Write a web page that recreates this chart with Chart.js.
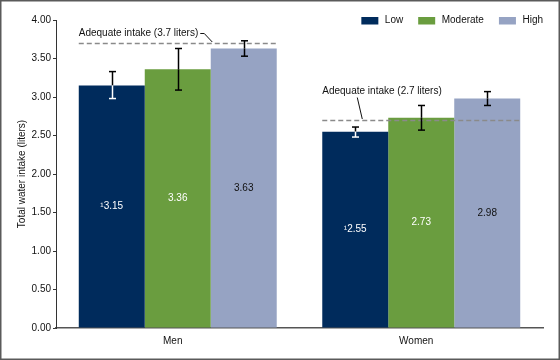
<!DOCTYPE html>
<html><head><meta charset="utf-8">
<script src="https://cdn.jsdelivr.net/npm/chart.js@4.4.1/dist/chart.umd.min.js"></script>
<style>html,body{margin:0;padding:0;background:#fff}#wrap{width:560px;height:360px;position:relative}</style>
</head><body><div id="wrap"><canvas id="c" width="560" height="360"></canvas></div>
<script>
// ---- data ----
const categories = ["Men", "Women"];
const seriesNames = ["Low", "Moderate", "High"];
const lowValues = [3.15, 2.55];
const moderateValues = [3.36, 2.73];
const highValues = [3.63, 2.98];
const lowCI = [[2.98, 3.33], [2.48, 2.61]];
const moderateCI = [[3.09, 3.63], [2.57, 2.89]];
const highCI = [[3.53, 3.73], [2.89, 3.07]];
const adequateIntake = [3.7, 2.7];
const adequateLabels = ["Adequate intake (3.7 liters)", "Adequate intake (2.7 liters)"];
const valueNotes = ["\u00b9", "", ""];
const yMin = 0, yMax = 4, yStep = 0.5;
const yTitle = "Total water intake (liters)";

// ---- styles ----
const FONT = '"Liberation Sans", Arial, Helvetica, sans-serif';
const FS = 10;
const colors = ["#002b5c", "#6a9d3f", "#96a3c3"];
const labelColors = ["#ffffff", "#ffffff", "#111111"];
const innerErrColors = ["#ffffff", "#000000", "#000000"];
const annotStyle = [
  { rise: 10, leader: "hook" },
  { rise: 29, leader: "down" }
];

const overlay = {
  id: "overlay",
  beforeDraw(chart) {
    const ctx = chart.ctx;
    ctx.save(); ctx.fillStyle = "#fff"; ctx.fillRect(0, 0, chart.width, chart.height); ctx.restore();
  },
  afterDatasetsDraw(chart) {
    const ctx = chart.ctx, ys = chart.scales.y;
    const metas = chart.data.datasets.map((d, i) => chart.getDatasetMeta(i));
    ctx.save();
    // reference lines
    categories.forEach((c, i) => {
      const f = metas[0].data[i], l = metas[metas.length - 1].data[i];
      const x0 = f.x - f.width / 2, x1 = l.x + l.width / 2;
      const yy = Math.round(ys.getPixelForValue(adequateIntake[i])) + 0.5;
      ctx.save();
      ctx.strokeStyle = "#8a8a8a"; ctx.lineWidth = 1.5; ctx.setLineDash([5, 3]);
      ctx.beginPath(); ctx.moveTo(x0, yy); ctx.lineTo(x1, yy); ctx.stroke();
      ctx.restore();
      // annotation text
      ctx.font = FS + "px " + FONT; ctx.fillStyle = "#111"; ctx.textBaseline = "middle"; ctx.textAlign = "left";
      const ty = yy - annotStyle[i].rise;
      ctx.fillText(adequateLabels[i], x0, ty);
      const tw = ctx.measureText(adequateLabels[i]).width;
      ctx.strokeStyle = "#111"; ctx.lineWidth = 1;
      ctx.beginPath();
      if (annotStyle[i].leader === "hook") {
        ctx.moveTo(x0 + tw + 2, ty); ctx.lineTo(x0 + tw + 6, ty); ctx.lineTo(x0 + tw + 14, yy - 1.5);
      } else {
        ctx.moveTo(x0 + 35, ty + 6); ctx.lineTo(x0 + 40, yy - 1.5);
      }
      ctx.stroke();
    });
    // error bars
    const cis = [lowCI, moderateCI, highCI];
    metas.forEach((m, di) => {
      m.data.forEach((bar, i) => {
        const [lo, hi] = cis[di][i];
        const yl = ys.getPixelForValue(lo), yh = ys.getPixelForValue(hi), yt = bar.y;
        const x = Math.round(bar.x) + 0.5;
        ctx.lineWidth = 1.5;
        const seg = (a, b, col) => { if (b <= a) return; ctx.strokeStyle = col; ctx.beginPath(); ctx.moveTo(x, a); ctx.lineTo(x, b); ctx.stroke(); };
        seg(yh, Math.min(yt, yl), "#000");
        seg(Math.max(yt, yh), yl, innerErrColors[di]);
        const cap = (yy, col) => { ctx.strokeStyle = col; ctx.beginPath(); ctx.moveTo(x - 3.5, yy); ctx.lineTo(x + 3.5, yy); ctx.stroke(); };
        cap(yh, yh < yt ? "#000" : innerErrColors[di]);
        cap(yl, yl < yt ? "#000" : innerErrColors[di]);
      });
    });
    // value labels
    ctx.font = FS + "px " + FONT; ctx.textAlign = "center"; ctx.textBaseline = "middle";
    metas.forEach((m, di) => {
      const vals = chart.data.datasets[di].data;
      m.data.forEach((bar, i) => {
        ctx.fillStyle = labelColors[di];
        ctx.fillText(valueNotes[di] + vals[i].toFixed(2), bar.x, (bar.y + bar.base) / 2);
      });
    });
    // legend (right aligned to chart area)
    ctx.textAlign = "left";
    let x = chart.chartArea.right;
    for (let di = seriesNames.length - 1; di >= 0; di--) {
      const w = ctx.measureText(seriesNames[di]).width;
      x -= w;
      ctx.fillStyle = "#111"; ctx.fillText(seriesNames[di], x, 20.5);
      x -= 6.5 + 17;
      ctx.fillStyle = colors[di]; ctx.fillRect(x, 17, 17, 7.5);
      x -= 15;
    }
    // frame
    ctx.strokeStyle = "#5a5a5a"; ctx.lineWidth = 1.5;
    ctx.strokeRect(0.75, 0.75, chart.width - 1.5, chart.height - 1.5);
    ctx.restore();
  }
};

new Chart(document.getElementById("c"), {
  type: "bar",
  data: {
    labels: categories,
    datasets: [
      { label: seriesNames[0], data: lowValues, backgroundColor: colors[0] },
      { label: seriesNames[1], data: moderateValues, backgroundColor: colors[1] },
      { label: seriesNames[2], data: highValues, backgroundColor: colors[2] }
    ]
  },
  options: {
    responsive: false, animation: false, devicePixelRatio: 1,
    layout: { padding: { top: 20, right: 17, left: 0, bottom: 0 } },
    datasets: { bar: { categoryPercentage: 0.813, barPercentage: 1.0, borderWidth: 0 } },
    plugins: { legend: { display: false }, tooltip: { enabled: false } },
    scales: {
      x: {
        grid: { display: false, drawTicks: false, tickLength: 0 },
        border: { display: true, color: "#555", width: 1.5 },
        ticks: { color: "#111", font: { family: FONT, size: FS }, padding: 7, labelOffset: -5 },
        afterFit(s) { s.height = 32; }
      },
      y: {
        min: yMin, max: yMax,
        ticks: { stepSize: yStep, color: "#111", font: { family: FONT, size: FS }, padding: 2,
          callback: v => Number(v).toFixed(2) },
        grid: { drawOnChartArea: false, drawTicks: true, tickLength: 3, color: "#333" },
        border: { display: true, color: "#333", width: 1 },
        title: { display: true, text: yTitle, color: "#111", font: { family: FONT, size: FS }, padding: { top: 16, bottom: 0 } },
        afterFit(s) { s.width = 56; }
      }
    }
  },
  plugins: [overlay]
});
</script></body></html>
